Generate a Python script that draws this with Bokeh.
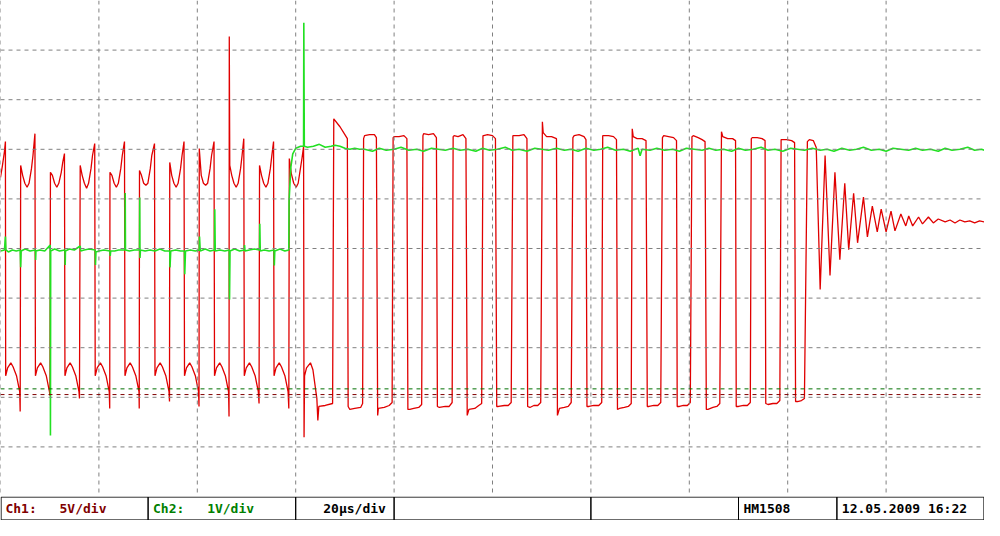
from bokeh.plotting import figure
from bokeh.models import Range1d, Span
from bokeh.layouts import column
from bokeh.embed import file_html
from bokeh.resources import INLINE
from bokeh.core.properties import value

# ---------------- scope settings ----------------
TIME_PER_DIV = 20.0      # µs/div
N_XDIV = 10
N_YDIV = 10
CH1_VDIV = 5.0           # V/div
CH2_VDIV = 1.0           # V/div
CH1_GND_DIV = -2.945     # ground marker, divisions from screen centre
CH2_GND_DIV = -2.83

# ---------------- Ch1 (red) samples: (time µs, volts) ----------------
CH1_START = [(0.0, 21.9), (0.4, 23.1), (0.8, 24.5), (1.0, 25.5)]

CH1_BURST_A = [
    (1.05, 1.9), (1.45, 2.7), (2.1, 3.2), (2.55, 2.8), (3.25, 1.9), (3.9, 0.3), (4.0, -1.7),
    (4.1, 23.1), (4.5, 22.1), (4.95, 21.3), (5.4, 20.9), (5.8, 21.3), (6.3, 22.8), (6.6, 24.1), (7.0, 26.3),
    (7.1, 1.9), (7.5, 2.7), (8.15, 3.2), (8.6, 2.8), (9.3, 1.9), (9.95, 0.3), (10.05, -0.1),
    (10.15, 22.4), (10.55, 22.1), (11.0, 21.3), (11.45, 20.9), (11.85, 21.3), (12.35, 22.4), (12.65, 23.4), (13.0, 24.3),
    (13.1, 1.9), (13.5, 2.7), (14.15, 3.2), (14.6, 2.8), (15.3, 1.9), (15.95, 0.3), (16.05, -0.4),
    (16.2, 23.1), (16.6, 22.1), (17.05, 21.3), (17.5, 20.8), (17.9, 21.3), (18.4, 22.8), (18.7, 24.1), (19.15, 25.3),
    (19.25, 1.9), (19.65, 2.7), (20.3, 3.2), (20.75, 2.8), (21.45, 1.9), (22.1, 0.3), (22.2, -1.4),
    (22.25, 22.4), (22.65, 22.1), (23.1, 21.3), (23.55, 20.9), (23.95, 21.3), (24.45, 22.8), (24.75, 24.1), (25.2, 25.5),
    (25.3, 1.9), (25.7, 2.7), (26.35, 3.2), (26.8, 2.8), (27.5, 1.9), (28.15, 0.3), (28.2, -1.4),
    (28.25, 22.6), (28.65, 22.1), (29.1, 21.3), (29.55, 21.1), (29.95, 21.3), (30.45, 22.8), (30.75, 24.1), (31.3, 25.3),
    (31.4, 1.9), (31.8, 2.7), (32.45, 3.2), (32.9, 2.8), (33.6, 1.9), (34.25, 0.3), (34.35, -0.7),
    (34.4, 23.4), (34.8, 22.1), (35.25, 21.3), (35.7, 20.9), (36.1, 21.3), (36.6, 22.8), (36.9, 24.1), (37.3, 25.5),
    (37.4, 1.9), (37.8, 2.7), (38.45, 3.2), (38.9, 2.8), (39.6, 1.9), (40.25, 0.3), (40.35, -1.2),
    (40.4, 24.8), (40.8, 22.1), (41.25, 21.3), (41.7, 21.1), (42.1, 21.3), (42.6, 22.8), (42.9, 24.1), (43.4, 25.5),
    (43.5, 1.9), (43.9, 2.7), (44.55, 3.2), (45.0, 2.8), (45.7, 1.9), (46.35, 0.3), (46.45, -2.2),
    (46.5, 36.1), (46.6, 23.1), (47.0, 22.1), (47.45, 21.3), (47.9, 20.9), (48.3, 21.3), (48.8, 22.8), (49.1, 24.1), (49.45, 25.8),
    (49.55, 1.9), (49.95, 2.7), (50.6, 3.2), (51.05, 2.8), (51.75, 1.9), (52.4, 0.3), (52.55, -0.9),
    (52.65, 23.1), (53.05, 22.1), (53.5, 21.3), (53.95, 20.9), (54.35, 21.3), (54.85, 22.8), (55.15, 24.1), (55.5, 25.5),
    (55.6, 1.9), (56.0, 2.7), (56.65, 3.2), (57.1, 2.8), (57.8, 1.9), (58.45, 0.3), (58.6, -1.4),
    (58.7, 23.8), (59.1, 22.3), (59.6, 21.3), (60.1, 20.9), (60.5, 21.3), (60.9, 22.6), (61.3, 23.9), (61.6, 25.0),
    (61.7, -4.3), (61.8, 1.9), (62.2, 2.7), (63.0, 3.2), (63.5, 2.5), (64.3, -0.4), (64.5, -2.6), (64.7, -1.2),
    (66.0, -1.1), (67.5, -0.9),
]

CH1_BURST_B = [
    (67.74, 27.8), (69.0, 27.0), (70.0, 26.2), (70.5, 25.8),
    (70.66, -1.2), (71.0, -1.5), (72.0, -1.4), (73.2, -1.3), (73.6, -0.9),
    (73.8, 25.8), (74.0, 26.1), (75.0, 26.2), (76.0, 26.2), (76.4, 25.9),
    (76.66, -2.1), (76.8, -1.4), (78.0, -1.3), (79.0, -1.1), (79.6, -0.8),
    (79.8, 25.9), (80.0, 26.0), (81.0, 26.0), (82.0, 26.1), (82.6, 25.8),
    (82.8, -1.5), (83.2, -1.5), (84.0, -1.4), (85.0, -1.3), (85.6, -1.0),
    (85.86, 26.1), (86.0, 26.3), (87.0, 26.2), (88.0, 26.3), (88.6, 25.9),
    (88.8, -1.2), (89.2, -1.3), (90.4, -1.2), (91.2, -1.2), (91.8, -0.8),
    (92.0, 26.0), (92.2, 26.1), (93.0, 26.0), (94.0, 26.2), (94.6, 25.8),
    (94.86, -2.1), (95.2, -1.5), (96.4, -1.4), (97.2, -1.1), (97.8, -0.9),
    (98.06, 26.1), (98.2, 26.1), (99.0, 26.2), (100.0, 26.1), (100.6, 25.8),
    (100.86, -1.2), (101.2, -1.2), (102.4, -1.1), (103.2, -1.1), (103.8, -0.8),
    (104.14, 26.1), (104.4, 26.1), (105.4, 26.1), (106.4, 26.2), (107.0, 25.8),
    (107.14, -1.2), (107.6, -1.3), (108.4, -1.1), (109.2, -1.1), (109.8, -0.8),
    (110.14, 27.5), (110.3, 26.4), (111.0, 26.0), (112.0, 26.0), (113.0, 25.8),
    (113.2, -2.1), (113.6, -1.4), (114.6, -1.3), (115.4, -1.2), (116.0, -0.8),
    (116.34, 25.9), (116.6, 26.1), (117.6, 26.2), (118.6, 26.0), (119.0, 25.7),
    (119.2, -1.2), (119.6, -1.2), (120.6, -1.1), (121.6, -1.1), (122.2, -0.8),
    (122.4, 26.1), (122.8, 26.1), (123.6, 26.1), (124.6, 26.0), (125.2, 25.7),
    (125.4, -1.5), (125.8, -1.4), (126.8, -1.3), (127.6, -1.2), (128.2, -0.9),
    (128.4, 26.8), (128.6, 26.0), (129.4, 25.8), (130.4, 25.8), (131.2, 25.6),
    (131.46, -1.2), (131.8, -1.2), (132.8, -1.1), (133.6, -1.1), (134.2, -0.8),
    (134.54, 25.9), (134.8, 26.1), (135.8, 26.0), (136.8, 25.9), (137.4, 25.6),
    (137.54, -1.2), (138.0, -1.2), (138.8, -1.1), (139.6, -1.1), (140.2, -0.8),
    (140.54, 26.0), (140.8, 26.1), (141.8, 25.9), (142.6, 25.7), (143.2, 25.5),
    (143.46, -1.5), (143.8, -1.5), (144.8, -1.3), (145.6, -1.2), (146.2, -0.9),
    (146.54, 26.5), (146.8, 26.0), (147.8, 25.8), (148.8, 25.8), (149.4, 25.6),
    (149.54, -1.2), (150.0, -1.2), (151.0, -1.1), (151.8, -1.1), (152.4, -0.8),
    (152.6, 25.8), (152.8, 25.9), (153.8, 25.9), (154.8, 25.8), (155.4, 25.6),
    (155.54, -0.9), (156.0, -1.0), (157.0, -0.9), (157.8, -0.9), (158.4, -0.6),
    (158.66, 25.7), (158.8, 25.7), (159.8, 25.7), (160.8, 25.6), (161.4, 25.4),
    (161.6, -0.7), (162.0, -0.7), (162.8, -0.6), (163.4, -0.4),
    (164.0, 25.5), (164.4, 25.7), (165.2, 25.6), (165.8, 24.9),
]

CH1_RINGDOWN = [
    (166.6, 10.6), (167.6, 24.1), (168.6, 12.0), (169.6, 22.4), (170.6, 13.6), (171.6, 21.3),
    (172.4, 14.6), (173.4, 20.3), (174.2, 15.3), (175.4, 19.9), (176.2, 15.9), (177.2, 19.0),
    (178.2, 16.4), (179.0, 18.7), (180.0, 16.4), (181.0, 18.5), (181.8, 16.5), (183.0, 18.2),
    (184.0, 17.0), (184.6, 18.0), (185.4, 17.0), (186.6, 17.9), (187.4, 17.2), (188.6, 17.9),
    (189.6, 17.3), (190.6, 17.7), (192.0, 17.4), (193.0, 17.6), (194.0, 17.3), (195.0, 17.6),
    (196.0, 17.4), (197.0, 17.5), (198.0, 17.3), (199.0, 17.5), (200.0, 17.4),
]

# ---------------- Ch2 (green) samples: (time µs, volts) ----------------
CH2_LOW = [
    (0.0, 2.78), (0.8, 2.80), (1.0, 3.07), (1.1, 2.80), (1.6, 2.76), (2.4, 2.80), (3.2, 2.78),
    (4.0, 2.80), (4.1, 2.45), (4.2, 2.78), (5.0, 2.82), (6.0, 2.78), (7.1, 2.80), (7.14, 2.60),
    (7.2, 2.78), (8.0, 2.80), (9.0, 2.78), (10.1, 2.90), (10.15, -0.94), (10.2, 2.78), (11.0, 2.82),
    (12.0, 2.78), (13.1, 2.80), (13.15, 2.50), (13.2, 2.78), (14.0, 2.82), (15.0, 2.80), (16.2, 2.88),
    (16.3, 2.78), (17.0, 2.80), (18.0, 2.82), (19.25, 2.80), (19.3, 2.50), (19.4, 2.76), (20.0, 2.78),
    (21.0, 2.80), (22.25, 2.78), (22.3, 2.68), (22.4, 2.78), (23.2, 2.78), (24.0, 2.80), (25.3, 2.80),
    (25.35, 3.95), (25.4, 2.80), (26.2, 2.78), (27.2, 2.80), (28.25, 2.80), (28.3, 3.86), (28.35, 2.64),
    (28.45, 2.80), (29.4, 2.78), (30.4, 2.80), (31.4, 2.78), (32.4, 2.82), (33.4, 2.78), (34.4, 2.78),
    (34.45, 2.45), (34.6, 2.78), (35.6, 2.80), (36.6, 2.78), (37.4, 2.78), (37.45, 2.31), (37.6, 2.78),
    (38.6, 2.80), (39.6, 2.78), (40.4, 2.80), (40.45, 3.07), (40.6, 2.78), (41.6, 2.82), (42.6, 2.78),
    (43.5, 2.80), (43.55, 3.62), (43.65, 2.78), (44.6, 2.80), (45.6, 2.78), (46.5, 2.80), (46.55, 1.80),
    (46.65, 2.78), (47.6, 2.82), (48.6, 2.78), (49.55, 2.80), (49.6, 2.90), (49.7, 2.78), (50.6, 2.80),
    (51.6, 2.82), (52.65, 2.80), (52.7, 3.33), (52.8, 2.78), (53.6, 2.80), (54.6, 2.78), (55.6, 2.80),
    (55.65, 2.49), (55.75, 2.78), (56.8, 2.82), (57.8, 2.78), (58.6, 2.80),
]

CH2_HIGH = [
    (58.65, 3.78), (59.0, 4.46), (59.4, 4.74), (60.0, 4.85), (61.0, 4.89), (61.6, 4.89),
    (61.65, 7.38), (61.75, 4.89), (62.4, 4.87), (63.6, 4.89), (64.8, 4.93), (66.0, 4.87),
    (67.2, 4.89), (68.0, 4.91), (69.0, 4.89), (70.0, 4.85), (71.0, 4.83), (72.0, 4.85),
    (73.0, 4.83), (74.0, 4.83), (75.6, 4.79), (77.0, 4.85), (78.4, 4.81), (80.0, 4.83),
    (81.4, 4.87), (83.0, 4.81), (84.6, 4.83), (86.0, 4.79), (87.6, 4.85), (89.0, 4.83),
    (90.4, 4.81), (92.0, 4.85), (93.4, 4.81), (95.0, 4.83), (96.6, 4.79), (98.0, 4.85),
    (99.4, 4.81), (101.0, 4.83), (102.6, 4.87), (104.0, 4.81), (105.4, 4.83), (107.0, 4.79),
    (108.6, 4.85), (110.0, 4.83), (111.4, 4.81), (113.0, 4.85), (114.6, 4.81), (116.0, 4.83),
    (117.4, 4.79), (119.0, 4.85), (120.6, 4.81), (122.0, 4.83), (123.4, 4.87), (125.0, 4.81),
    (126.6, 4.83), (128.0, 4.79), (129.6, 4.85), (130.0, 4.70), (130.4, 4.83), (132.0, 4.81),
    (133.4, 4.85), (135.0, 4.81), (136.6, 4.83), (138.0, 4.79), (139.4, 4.85), (141.0, 4.83),
    (142.6, 4.81), (144.0, 4.85), (145.4, 4.81), (147.0, 4.83), (148.6, 4.79), (150.0, 4.85),
    (151.4, 4.81), (153.0, 4.83), (154.6, 4.87), (156.0, 4.81), (157.4, 4.83), (159.0, 4.79),
    (160.6, 4.85), (162.0, 4.83), (163.4, 4.81), (165.0, 4.85), (166.6, 4.81), (168.0, 4.83),
    (169.4, 4.79), (171.0, 4.85), (172.6, 4.81), (174.0, 4.83), (175.4, 4.87), (177.0, 4.81),
    (178.6, 4.83), (180.0, 4.79), (181.4, 4.85), (183.0, 4.83), (184.6, 4.81), (186.0, 4.85),
    (187.4, 4.81), (189.0, 4.83), (190.6, 4.79), (192.0, 4.85), (193.4, 4.81), (195.0, 4.83),
    (196.6, 4.87), (198.0, 4.81), (199.4, 4.83), (200.0, 4.81),
]

# ---------------- status bar texts ----------------
CH1_LABEL = ["Ch1:", "5V/div"]
CH2_LABEL = ["Ch2:", "1V/div"]
TIMEBASE_LABEL = ["20µs/div"]
INFO_LABELS = ["HM1508", "12.05.2009 16:22"]

# ---------------- styling / layout ----------------
W = 984
H_SCOPE = 496
H_BAR = 24
RED = "#e00000"
GREEN = "#22e022"
GRID = "#808080"
FONT = value("DejaVu Sans Mono")

ch1 = CH1_START + CH1_BURST_A + CH1_BURST_B + CH1_RINGDOWN
ch2 = CH2_LOW + CH2_HIGH
ch1_t = [a for a, b in ch1]
ch1_v = [b for a, b in ch1]
ch2_t = [a for a, b in ch2]
ch2_v = [b for a, b in ch2]

half = N_YDIV / 2
p = figure(width=W, height=H_SCOPE,
           x_range=Range1d(0, TIME_PER_DIV * N_XDIV),
           y_range=Range1d(-half, half),
           output_backend="svg", toolbar_location=None,
           x_axis_location=None, y_axis_location=None,
           min_border=0, outline_line_color=None,
           background_fill_color="white", border_fill_color="white")
p.xgrid.visible = False
p.ygrid.visible = False
p.extra_y_ranges = {
    "ch1": Range1d((-half - CH1_GND_DIV) * CH1_VDIV, (half - CH1_GND_DIV) * CH1_VDIV),
    "ch2": Range1d((-half - CH2_GND_DIV) * CH2_VDIV, (half - CH2_GND_DIV) * CH2_VDIV),
}

for i in range(N_XDIV):
    p.add_layout(Span(location=i * TIME_PER_DIV, dimension="height",
                      line_color=GRID, line_dash="4 4", line_width=1))
for j in range(1, N_YDIV):
    p.add_layout(Span(location=-half + j, dimension="width",
                      line_color=GRID, line_dash="4 4", line_width=1))

p.add_layout(Span(location=0, dimension="width", y_range_name="ch2",
                  line_color="#007000", line_dash="4 4", line_width=1))
p.add_layout(Span(location=0, dimension="width", y_range_name="ch1",
                  line_color="#800000", line_dash="4 4", line_width=1))

p.line(ch1_t, ch1_v, y_range_name="ch1", line_color=RED, line_width=1.3)
p.line(ch2_t, ch2_v, y_range_name="ch2", line_color=GREEN, line_width=1.6)

# status bar
bar = figure(width=W, height=H_BAR, x_range=Range1d(0, 1000), y_range=Range1d(0, 25),
             output_backend="svg", toolbar_location=None,
             x_axis_location=None, y_axis_location=None,
             min_border=0, outline_line_color=None,
             background_fill_color="white", border_fill_color="white")
bar.xgrid.visible = False
bar.ygrid.visible = False
CELL_EDGES = [0.6, 150, 300, 400, 600, 750, 850, 999.4]
bar.quad(left=CELL_EDGES[:-1], right=CELL_EDGES[1:], bottom=0.6, top=24.4,
         fill_color=None, line_color="black", line_width=1)

common = dict(text_font=FONT, text_font_style="bold", text_font_size="13px",
              text_baseline="middle", text_align="left")
bar.text(x=[5, 60], y=[12.5, 12.5], text=CH1_LABEL, text_color="#800000", **common)
bar.text(x=[155, 210], y=[12.5, 12.5], text=CH2_LABEL, text_color="#008000", **common)
bar.text(x=[328], y=[12.5], text=TIMEBASE_LABEL, text_color="black", **common)
bar.text(x=[755, 855], y=[12.5, 12.5], text=INFO_LABELS, text_color="black", **common)

layout = column(p, bar, spacing=0)
open("out.html", "w").write(file_html(layout, INLINE))
